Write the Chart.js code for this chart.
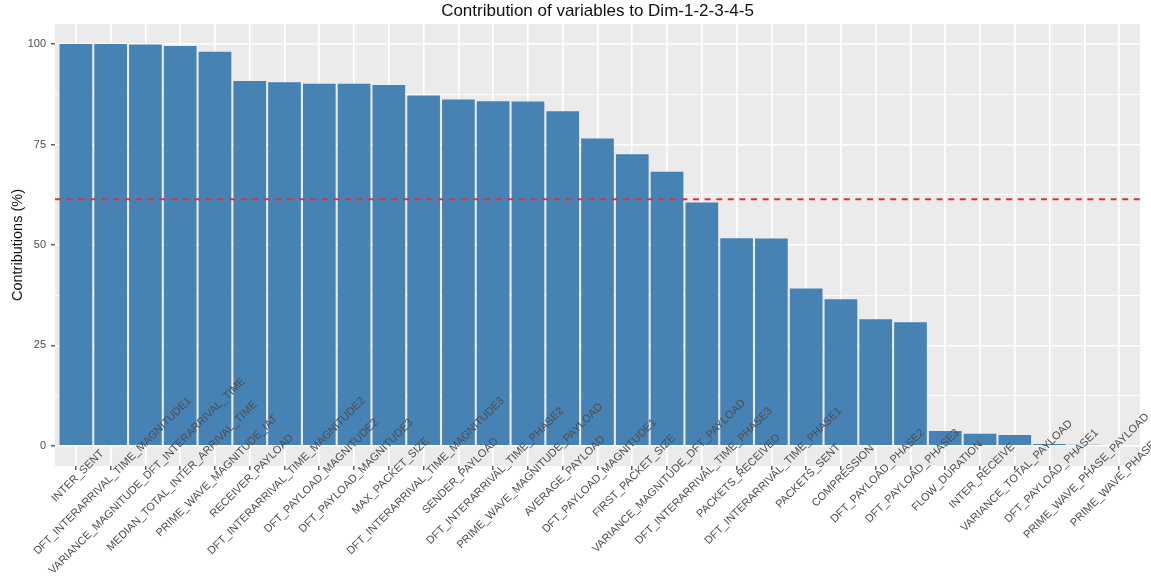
<!DOCTYPE html>
<html>
<head>
<meta charset="utf-8">
<script src="https://cdn.jsdelivr.net/npm/chart.js@4/dist/chart.umd.min.js"></script>
<style>
  html, body { margin: 0; padding: 0; background: #ffffff; }
  canvas { display: block; }
</style>
</head>
<body>
<canvas id="chart" width="1151" height="581"></canvas>
<script>
// Variables, sorted by their contribution to dimensions 1-5
const variables = [
  'INTER_SENT',
  'DFT_INTERARRIVAL_TIME_MAGNITUDE1',
  'VARIANCE_MAGNITUDE_DFT_INTERARRIVAL_TIME',
  'MEDIAN_TOTAL_INTER_ARRIVAL_TIME',
  'PRIME_WAVE_MAGNITUDE_IAT',
  'RECEIVER_PAYLOAD',
  'DFT_INTERARRIVAL_TIME_MAGNITUDE2',
  'DFT_PAYLOAD_MAGNITUDE2',
  'DFT_PAYLOAD_MAGNITUDE3',
  'MAX_PACKET_SIZE',
  'DFT_INTERARRIVAL_TIME_MAGNITUDE3',
  'SENDER_PAYLOAD',
  'DFT_INTERARRIVAL_TIME_PHASE2',
  'PRIME_WAVE_MAGNITUDE_PAYLOAD',
  'AVERAGE_PAYLOAD',
  'DFT_PAYLOAD_MAGNITUDE1',
  'FIRST_PACKET_SIZE',
  'VARIANCE_MAGNITUDE_DFT_PAYLOAD',
  'DFT_INTERARRIVAL_TIME_PHASE3',
  'PACKETS_RECEIVED',
  'DFT_INTERARRIVAL_TIME_PHASE1',
  'PACKETS_SENT',
  'COMPRESSION',
  'DFT_PAYLOAD_PHASE2',
  'DFT_PAYLOAD_PHASE3',
  'FLOW_DURATION',
  'INTER_RECEIVE',
  'VARIANCE_TOTAL_PAYLOAD',
  'DFT_PAYLOAD_PHASE1',
  'PRIME_WAVE_PHASE_PAYLOAD',
  'PRIME_WAVE_PHASE_IAT'
];

// Contributions (%)
const contributions = [
  100.0, 100.0, 99.9, 99.5, 98.1, 90.8, 90.5, 90.1, 90.1, 89.8,
  87.2, 86.2, 85.8, 85.7, 83.3, 76.5, 72.6, 68.2, 60.6, 51.7,
  51.6, 39.2, 36.5, 31.5, 30.8, 3.7, 3.0, 2.7, 0.5, 0.3,
  0.2
];

// Reference line (expected average contribution)
const expectedContribution = 61.4;

// Axis ticks
const yMajorTicks = [0, 25, 50, 75, 100];
const yMinorTicks = [12.5, 37.5, 62.5, 87.5];

const chartTitle = 'Contribution of variables to Dim-1-2-3-4-5';
const yAxisTitle = 'Contributions (%)';

const FONT = '"Liberation Sans", Arial, Helvetica, sans-serif';
const PANEL_BG = '#EBEBEB';
const BAR_FILL = '#4682B4';
const TEXT_GREY = '#4D4D4D';

const isMajor = v => yMajorTicks.includes(v);

// Grey panel behind the grid
const panelBackground = {
  id: 'panelBackground',
  beforeDraw(chart) {
    const { ctx, chartArea: a } = chart;
    ctx.save();
    ctx.fillStyle = PANEL_BG;
    ctx.fillRect(a.left, a.top, a.right - a.left, a.bottom - a.top);
    ctx.restore();
  }
};

// Dashed reference line, 45° centred category labels, and the title
const overlays = {
  id: 'overlays',
  afterDraw(chart) {
    const { ctx, chartArea: a } = chart;
    const xs = chart.scales.x;
    const ys = chart.scales.y;

    ctx.save();
    const yRef = ys.getPixelForValue(expectedContribution);
    ctx.strokeStyle = '#D8343D';
    ctx.lineWidth = 2;
    ctx.setLineDash([6, 5.6]);
    ctx.beginPath();
    ctx.moveTo(a.left, yRef);
    ctx.lineTo(a.right, yRef);
    ctx.stroke();
    ctx.restore();

    ctx.save();
    ctx.font = '11px ' + FONT;
    ctx.fillStyle = TEXT_GREY;
    ctx.textAlign = 'center';
    ctx.textBaseline = 'middle';
    variables.forEach((name, i) => {
      const x = xs.getPixelForValue(i + 1);
      ctx.save();
      ctx.translate(x + 2, a.bottom + 10);
      ctx.rotate(-Math.PI / 4);
      ctx.fillText(name, 0, 0);
      ctx.restore();
    });
    ctx.restore();

    ctx.save();
    ctx.font = '17px ' + FONT;
    ctx.fillStyle = '#111111';
    ctx.textAlign = 'center';
    ctx.textBaseline = 'alphabetic';
    ctx.fillText(chartTitle, (a.left + a.right) / 2, 15.5);
    ctx.restore();
  }
};

new Chart(document.getElementById('chart'), {
  type: 'bar',
  data: {
    datasets: [{
      label: yAxisTitle,
      data: contributions.map((v, i) => ({ x: i + 1, y: v })),
      backgroundColor: BAR_FILL,
      borderWidth: 0,
      barPercentage: 0.94,
      categoryPercentage: 1.0
    }]
  },
  options: {
    responsive: false,
    devicePixelRatio: 1,
    animation: false,
    layout: { padding: { left: 0, right: 11, top: 24, bottom: 0 } },
    plugins: {
      legend: { display: false },
      title: { display: false },
      tooltip: { enabled: false }
    },
    scales: {
      x: {
        type: 'linear',
        offset: false,
        min: 0.4,
        max: variables.length + 0.6,
        afterBuildTicks(scale) {
          scale.ticks = variables.map((_, i) => ({ value: i + 1 }));
        },
        afterFit(scale) { scale.height = 115; },
        ticks: { display: false },
        border: { display: false },
        grid: {
          offset: false,
          color: '#FFFFFF',
          lineWidth: 1.6,
          drawTicks: true,
          tickLength: 4,
          tickColor: '#333333',
          tickWidth: 1.2
        }
      },
      y: {
        min: -5,
        max: 105,
        afterBuildTicks(scale) {
          scale.ticks = [...yMajorTicks, ...yMinorTicks]
            .sort((p, q) => p - q)
            .map(v => ({ value: v }));
        },
        afterFit(scale) { scale.width = 55; },
        border: { display: false },
        ticks: {
          font: { family: FONT, size: 11 },
          color: TEXT_GREY,
          padding: 5,
          callback: v => (isMajor(v) ? String(v) : '')
        },
        grid: {
          color: '#FFFFFF',
          lineWidth: c => (c.tick && isMajor(c.tick.value) ? 1.6 : 0.9),
          drawTicks: true,
          tickLength: 4,
          tickColor: c => (c.tick && isMajor(c.tick.value) ? '#333333' : 'rgba(0,0,0,0)'),
          tickWidth: 1.2
        },
        title: {
          display: true,
          text: yAxisTitle,
          font: { family: FONT, size: 14.5 },
          color: '#111111',
          padding: { top: 9, bottom: 0 }
        }
      }
    }
  },
  plugins: [panelBackground, overlays]
});
</script>
</body>
</html>
